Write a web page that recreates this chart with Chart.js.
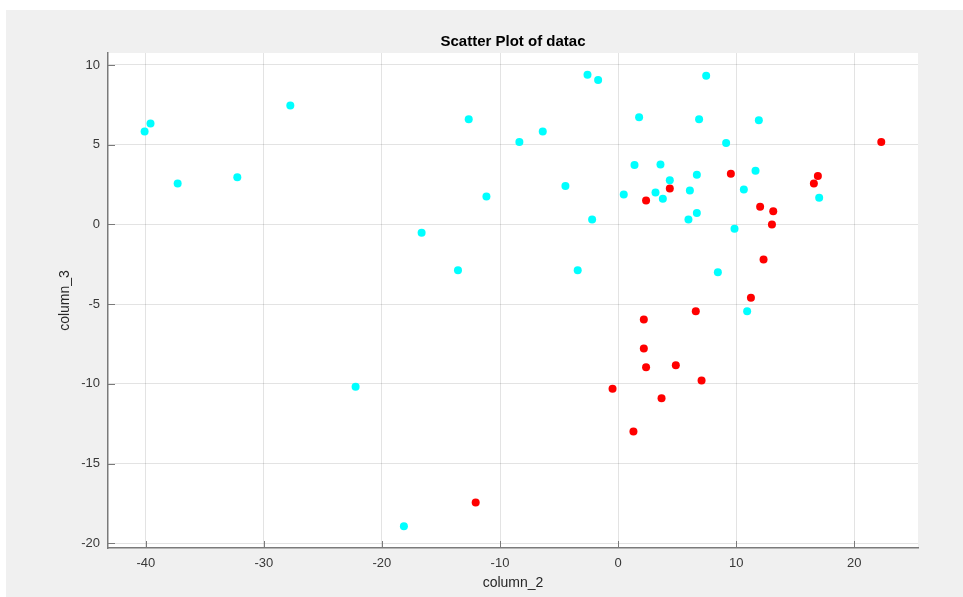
<!DOCTYPE html>
<html>
<head>
<meta charset="utf-8">
<script src="https://cdn.jsdelivr.net/npm/chart.js@4/dist/chart.umd.min.js"></script>
<style>
  html, body { margin: 0; padding: 0; background: #ffffff; }
  #wrap { width: 963px; height: 597px; }
</style>
</head>
<body>
<div id="wrap"><canvas id="c" width="963" height="597"></canvas></div>
<script>
// ---- Data ----
const titleText = "Scatter Plot of datac";
const xLabel = "column_2";
const yLabel = "column_3";
const xTicks = [-40, -30, -20, -10, 0, 10, 20];
const yTicks = [-20, -15, -10, -5, 0, 5, 10];

const cyanX = [-40.1, -39.6, -37.3, -32.25, -27.76, -2.59, -1.69, -12.65, 1.78, -6.38,
               -8.36, 1.39, 3.59, -4.46, -11.15, 0.48, 3.17, -2.2, -16.64, 7.46,
               6.86, 11.92, 9.15, 4.38, 6.67, 11.64, 10.65, 6.08, 3.79, 17.03,
               6.67, 5.96, 9.86, -3.42, 8.45, 10.93, -13.56, -22.23, -18.14];
const cyanY = [5.82, 6.32, 2.57, 2.96, 7.45, 9.39, 9.05, 6.59, 6.72, 5.82,
               5.17, 3.73, 3.76, 2.40, 1.75, 1.88, 2.0, 0.31, -0.53, 9.33,
               6.59, 6.53, 5.11, 2.77, 3.11, 3.36, 2.19, 2.13, 1.60, 1.67,
               0.71, 0.31, -0.27, -2.88, -3.01, -5.45, -2.88, -10.19, -18.94];

const redX = [2.37, 22.29, 4.38, 9.55, 16.92, 16.58, 12.03, 13.14, 13.03, 12.32,
              11.25, 6.58, 2.18, 2.18, 2.37, 4.89, 7.07, -0.47, 3.68, 1.30, -12.06];
const redY = [1.50, 5.17, 2.25, 3.17, 3.04, 2.57, 1.10, 0.83, 0.0, -2.2,
              -4.61, -5.45, -5.97, -7.79, -8.96, -8.83, -9.79, -10.31, -10.9, -12.99, -17.45];

const toPoints = (xs, ys) => xs.map((x, i) => ({ x: x, y: ys[i] }));

const FONT = "'Liberation Sans', Arial, Helvetica, sans-serif";
const AXIS_COLOR = '#7a7a7a';

const bgPlugin = {
  id: 'bg',
  beforeDraw(chart) {
    const { ctx, chartArea: a } = chart;
    ctx.save();
    ctx.fillStyle = '#ffffff';
    ctx.fillRect(0, 0, chart.width, chart.height);
    ctx.fillStyle = '#f0f0f0';
    ctx.fillRect(6, 10, chart.width - 6, chart.height - 10);
    ctx.fillStyle = '#ffffff';
    ctx.fillRect(a.left, a.top, a.right - a.left, a.bottom - a.top);
    ctx.restore();
  }
};

const innerTicks = {
  id: 'innerTicks',
  afterDraw(chart) {
    const { ctx, chartArea: a, scales } = chart;
    ctx.save();
    ctx.strokeStyle = AXIS_COLOR;
    ctx.lineWidth = 1;
    ctx.beginPath();
    xTicks.forEach(v => {
      const px = Math.round(scales.x.getPixelForValue(v)) + 0.5;
      ctx.moveTo(px, a.bottom);
      ctx.lineTo(px, a.bottom - 7);
    });
    yTicks.forEach(v => {
      const py = Math.round(scales.y.getPixelForValue(v)) + 0.5;
      ctx.moveTo(a.left, py);
      ctx.lineTo(a.left + 7, py);
    });
    ctx.stroke();
    ctx.restore();
  }
};

new Chart(document.getElementById('c'), {
  type: 'scatter',
  data: {
    datasets: [
      { label: 'group 1', data: toPoints(cyanX, cyanY), backgroundColor: '#00ffff',
        borderWidth: 0, pointRadius: 4, pointHoverRadius: 4 },
      { label: 'group 2', data: toPoints(redX, redY), backgroundColor: '#ff0000',
        borderWidth: 0, pointRadius: 4, pointHoverRadius: 4 }
    ]
  },
  options: {
    responsive: false,
    animation: false,
    events: [],
    layout: { padding: { left: 0, right: 45, top: 10, bottom: 0 } },
    plugins: {
      legend: { display: false },
      tooltip: { enabled: false },
      title: {
        display: true,
        text: titleText,
        fullSize: false,
        color: '#000000',
        font: { family: FONT, size: 15, weight: 'bold', lineHeight: 1.2 },
        padding: { top: 23, bottom: 2 }
      }
    },
    scales: {
      x: {
        type: 'linear',
        min: -43.2,
        max: 25.4,
        afterBuildTicks: s => { s.ticks = xTicks.map(v => ({ value: v })); },
        afterFit: s => { s.height = 49; },
        grid: { color: 'rgba(0,0,0,0.11)', drawTicks: false, lineWidth: 1 },
        border: { display: true, color: AXIS_COLOR, width: 1.5 },
        ticks: { color: '#383838', font: { family: FONT, size: 13 }, padding: 8 },
        title: { display: true, text: xLabel, color: '#262626',
                 font: { family: FONT, size: 14 }, padding: { top: 0, bottom: 5 } }
      },
      y: {
        type: 'linear',
        min: -20.3,
        max: 10.75,
        afterBuildTicks: s => { s.ticks = yTicks.map(v => ({ value: v })); },
        afterFit: s => { s.width = 108; },
        grid: { color: 'rgba(0,0,0,0.11)', drawTicks: false, lineWidth: 1 },
        border: { display: true, color: AXIS_COLOR, width: 1.5 },
        ticks: { color: '#383838', font: { family: FONT, size: 13 }, padding: 8 },
        title: { display: true, text: yLabel, color: '#262626',
                 font: { family: FONT, size: 14 }, padding: { top: 56.6, bottom: 0 } }
      }
    }
  },
  plugins: [bgPlugin, innerTicks]
});
</script>
</body>
</html>
